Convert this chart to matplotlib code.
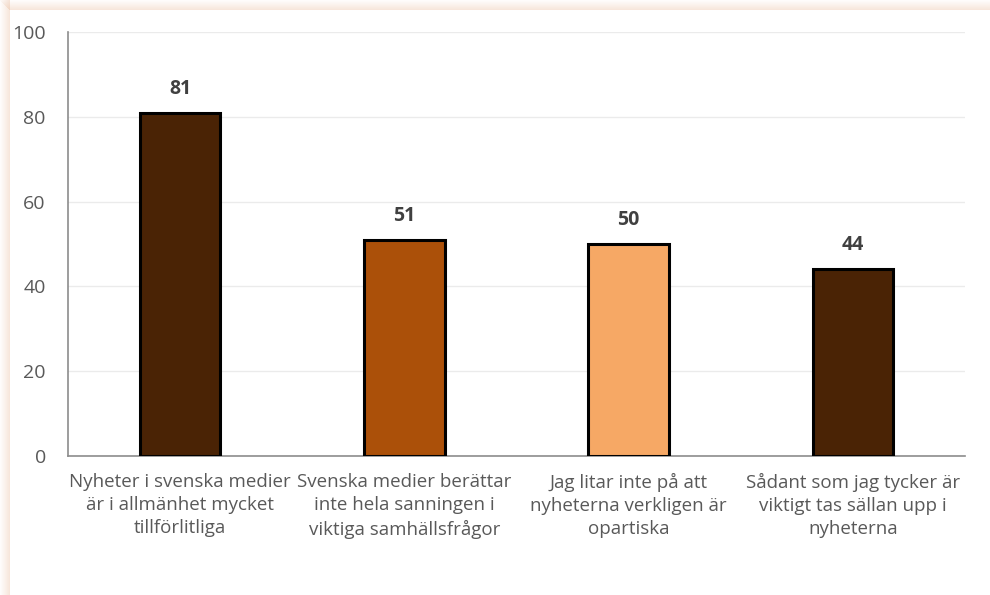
import numpy as np
import matplotlib
matplotlib.use("Agg")
import matplotlib.pyplot as plt
from matplotlib.patches import Rectangle

plt.rcParams['font.family'] = ['Open Sans', 'DejaVu Sans']

categories = [
    "Nyheter i svenska medier\när i allmänhet mycket\ntillförlitliga",
    "Svenska medier berättar\ninte hela sanningen i\nviktiga samhällsfrågor",
    "Jag litar inte på att\nnyheterna verkligen är\nopartiska",
    "Sådant som jag tycker är\nviktigt tas sällan upp i\nnyheterna",
]
values = [81, 51, 50, 44]
colors = ["#4A2305", "#AB5009", "#F6A865", "#4A2305"]
yticks = [0, 20, 40, 60, 80, 100]

fig = plt.figure(figsize=(9.9, 5.95), dpi=100)

# peach shadow along top and left edge of the frame
W, H = 990, 595
for i in range(10):
    a = 0.03 + 0.035 * i
    fig.patches.append(Rectangle((i / W, 0), 1 / W, 1,
                                 transform=fig.transFigure, color="#E8B898", alpha=a, lw=0))
    fig.patches.append(Rectangle((i / W, 1 - (i + 1) / H), 1 - i / W, 1 / H,
                                 transform=fig.transFigure, color="#E8B898", alpha=a, lw=0))

ax = fig.add_axes([68 / W, 1 - 456 / H, (965 - 68) / W, (456 - 32) / H])
x = np.arange(len(values))
ax.bar(x, values, width=0.36, color=colors, edgecolor="black", linewidth=2.2, zorder=3)

for xi, v in zip(x, values):
    ax.text(xi, v + 3.3, str(v), ha="center", va="bottom", fontsize=14,
            fontweight="bold", color="#404040")

ax.set_xlim(-0.5, len(values) - 0.5)
ax.set_ylim(0, 100)
ax.set_yticks(yticks)
ax.set_yticklabels([str(t) for t in yticks])
ax.set_xticks(x)
ax.set_xticklabels(categories, fontsize=13.5, color="#595959", linespacing=1.38)
ax.tick_params(axis="y", labelsize=14, colors="#595959", length=0, pad=16)
ax.tick_params(axis="x", length=0, pad=12)
ax.grid(axis="y", color="#EBEBEB", linewidth=1, zorder=0)
for s in ["top", "right"]:
    ax.spines[s].set_visible(False)
ax.spines["left"].set_color("#8C8C8C")
ax.spines["bottom"].set_color("#8C8C8C")
ax.spines["left"].set_linewidth(1.2)
ax.spines["bottom"].set_linewidth(1.2)

fig.savefig("out.png", dpi=100)
